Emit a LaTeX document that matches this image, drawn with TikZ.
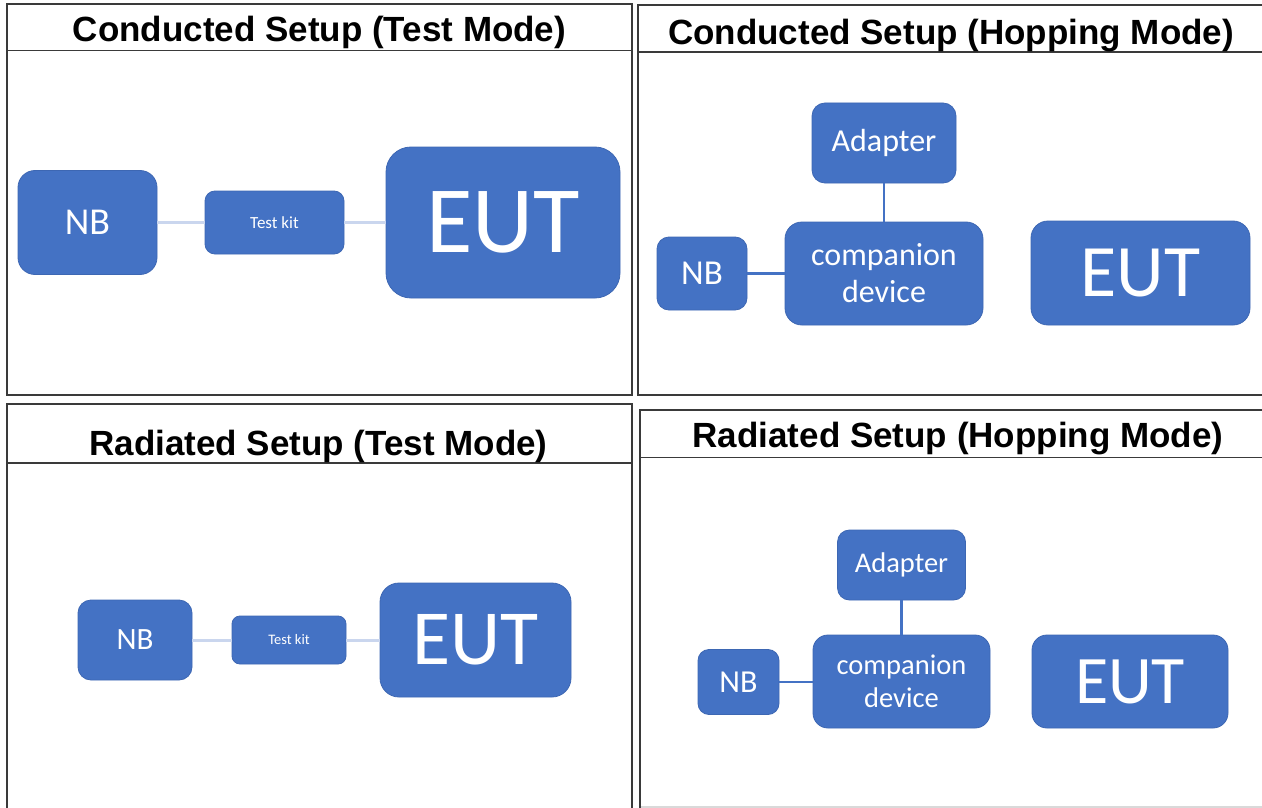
\documentclass[tikz,border=0pt]{standalone}
\usepackage{fontspec}
\setmainfont{Liberation Sans}
\newfontfamily\calibri{Carlito}
\definecolor{boxblue}{HTML}{4472C4}
\definecolor{boxedge}{HTML}{3D67B3}
\definecolor{lightlink}{HTML}{CAD6EE}
\definecolor{framegray}{HTML}{3A3A3A}
\definecolor{lightframe}{HTML}{D9D9D9}
\tikzset{
  blockbox/.style={rounded corners=#1, fill=boxblue, draw=boxedge, line width=0.8pt,
    text=white, inner sep=0pt, align=center},
  frameline/.style={draw=framegray, line width=1.6pt},
  titletext/.style={font=\fontsize{35}{40}\selectfont\bfseries, anchor=base, inner sep=0pt},
  testlink/.style={draw=lightlink, line width=3pt},
  hoplink/.style={draw=boxblue, line width=2.5pt},
}
\newcommand{\fs}[1]{\fontsize{#1}{#1}\selectfont}
\begin{document}
\begin{tikzpicture}[x=1pt,y=-1pt]
\useasboundingbox[fill=white] (0,0) rectangle (1262,808);

% panel frames
\draw[frameline] (7,4) rectangle (632,395);
\draw[frameline] (7,50.5) -- (632,50.5);
\draw[frameline] (1263,5) -- (638,5) -- (638,395) -- (1263,395);
\draw[frameline] (638,52) -- (1263,52);
\draw[frameline] (7,809) -- (7,404) -- (632,404) -- (632,809);
\draw[frameline] (7,463) -- (632,463);
\draw[frameline] (640,809) -- (640,410) -- (1263,410);
\draw[frameline] (640,457.5) -- (1263,457.5);
\draw[draw=lightframe, line width=1.2pt] (641,807) -- (1263,807);

% titles
\node[titletext] (t1) at (319.5,42) {Conducted Setup (Test Mode)};
\node[titletext] (t2) at (951,45) {Conducted Setup (Hopping Mode)};
\node[titletext] (t3) at (318.5,455) {Radiated Setup (Test Mode)};
\node[titletext] (t4) at (958,447) {Radiated Setup (Hopping Mode)};

% panel 1: conducted test mode
\node[blockbox=17pt, minimum width=139pt, minimum height=104pt, font=\calibri\fs{38}] (nb1) at (87.5,222.5) {NB};
\node[blockbox=10pt, minimum width=139pt, minimum height=63pt, font=\calibri\fs{17}] (kit1) at (274.5,222.5) {Test kit};
\node[blockbox=25pt, minimum width=234pt, minimum height=151pt, font=\calibri\fs{95}] (eut1) at (503,222.5) {EUT};
\draw[testlink] (nb1.east) -- (kit1.west);
\draw[testlink] (kit1.east) -- (eut1.west);

% panel 2: conducted hopping mode
\node[blockbox=13pt, minimum width=144pt, minimum height=80pt, font=\calibri\fs{32}] (ad2) at (884,143) {Adapter};
\node[blockbox=17pt, minimum width=198pt, minimum height=103pt, font=\calibri\fontsize{32}{37}\selectfont] (cd2) at (884,273.5) {companion\\device};
\node[blockbox=12pt, minimum width=90pt, minimum height=73pt, font=\calibri\fs{35}] (nb2) at (702,273.5) {NB};
\node[blockbox=17pt, minimum width=219pt, minimum height=104pt, font=\calibri\fs{74}] (eut2) at (1140.5,273) {EUT};
\draw[hoplink] (ad2.south) -- (cd2.north);
\draw[hoplink] (nb2.east) -- (cd2.west);

% panel 3: radiated test mode
\node[blockbox=13pt, minimum width=114pt, minimum height=80pt, font=\calibri\fs{31}] (nb3) at (135,640) {NB};
\node[blockbox=8pt, minimum width=114pt, minimum height=48pt, font=\calibri\fs{14.5}] (kit3) at (289,640) {Test kit};
\node[blockbox=19pt, minimum width=191pt, minimum height=114pt, font=\calibri\fs{78}] (eut3) at (475.5,640) {EUT};
\draw[testlink] (nb3.east) -- (kit3.west);
\draw[testlink] (kit3.east) -- (eut3.west);

% panel 4: radiated hopping mode
\node[blockbox=12pt, minimum width=128pt, minimum height=70pt, font=\calibri\fs{28.5}] (ad4) at (901.5,565) {Adapter};
\node[blockbox=15pt, minimum width=177pt, minimum height=93pt, font=\calibri\fontsize{28.5}{33}\selectfont] (cd4) at (901.5,681.5) {companion\\device};
\node[blockbox=11pt, minimum width=81pt, minimum height=65pt, font=\calibri\fs{32}] (nb4) at (738.5,682) {NB};
\node[blockbox=15pt, minimum width=196pt, minimum height=93pt, font=\calibri\fs{68}] (eut4) at (1130,681.5) {EUT};
\draw[hoplink] (ad4.south) -- (cd4.north);
\draw[hoplink] (nb4.east) -- (nb4.east -| cd4.west);
\end{tikzpicture}
\end{document}
